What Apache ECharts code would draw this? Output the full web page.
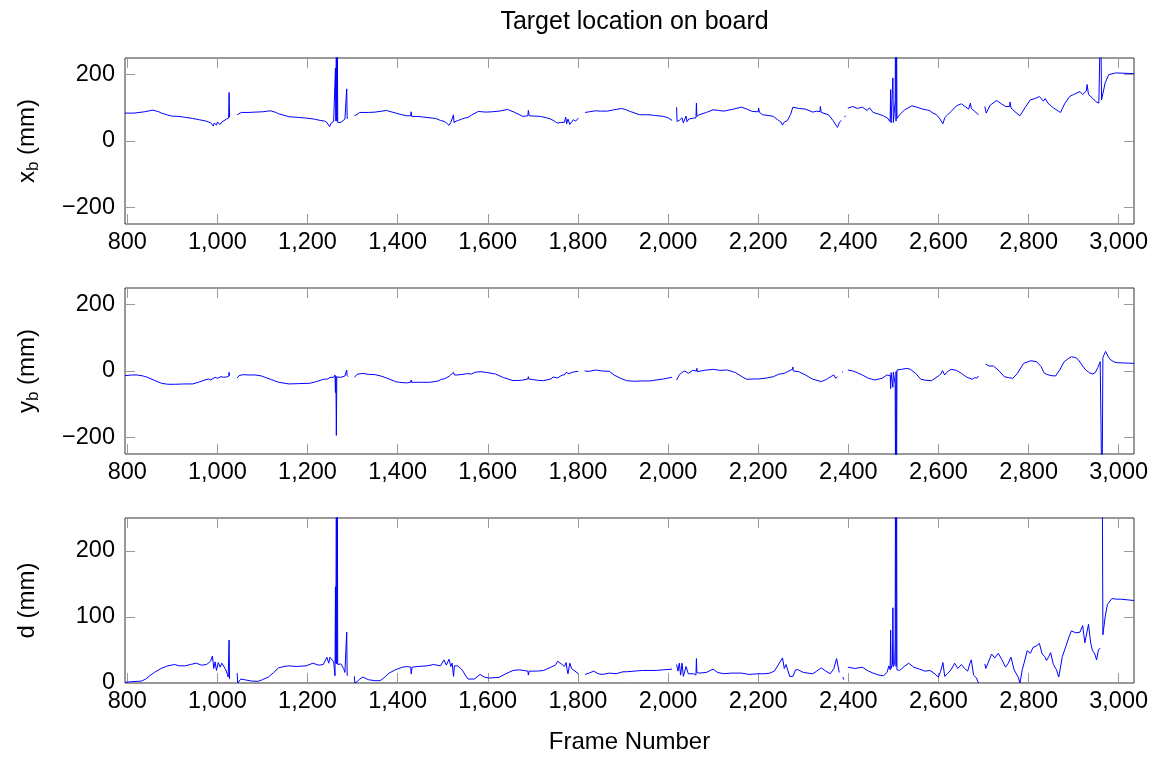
<!DOCTYPE html>
<html>
<head>
<meta charset="utf-8">
<title>Target location on board</title>
<script src="https://cdn.jsdelivr.net/npm/echarts@6/dist/echarts.min.js"></script>
<style>
  html, body { margin: 0; padding: 0; background: #fff; }
  #main { width: 1156px; height: 757px; }
</style>
</head>
<body>
<div id="main"></div>
<script>
// tick values
const frameTicks = [800, 1000, 1200, 1400, 1600, 1800, 2000, 2200, 2400, 2600, 2800, 3000];
const posTicks = [-200, 0, 200];
const distTicks = [0, 100, 200];

// [frame, value]; null = gap in the track, 400 = spike off the top
const xbPoints = [[795,84],[815,84],[838,88],[857,93],[870,88],[876,84],[890,78],[899,75],[915,74],[930,71],[945,68],[960,64],[975,60],[985,55],[988,50],[991,45],[993,54],[995,56],[998,48],[1000,57],[1002,52],[1004,58],[1006,50],[1010,57],[1014,62],[1020,66],[1025,69],[1026,146],[1027,72],[1035,null],
  [1044,79],[1053,86],[1070,86],[1083,87],[1100,88],[1118,91],[1128,87],[1136,82],[1159,73],[1180,71],[1197,69],[1215,66],[1228,62],[1238,60],[1243,56],[1246,58],[1249,43],[1253,55],[1258,59],[1261,60],[1262,220],[1263,60],[1264,400],[1265,60],[1266,400],[1267,56],[1274,56],[1283,66],[1286,66],[1287,157],[1288,68],[1290,69],[1297,null],
  [1304,76],[1310,80],[1316,86],[1335,86],[1350,87],[1375,92],[1396,84],[1410,79],[1419,76],[1429,76],[1430,88],[1431,74],[1445,74],[1457,72],[1470,70],[1484,68],[1495,62],[1503,59],[1508,55],[1514,47],[1518,56],[1522,52],[1524,79],[1525,56],[1530,60],[1535,62],[1542,66],[1549,69],[1556,71],[1564,78],[1579,89],[1595,87],[1610,88],[1625,90],[1644,95],[1660,86],[1678,74],[1689,76],[1690,92],[1692,76],[1705,75],[1717,74],[1730,70],[1740,66],[1750,58],[1755,54],[1762,56],[1770,56],[1773,72],[1775,52],[1778,66],[1782,50],[1786,54],[1790,64],[1795,60],[1801,69],[1808,null],
  [1816,86],[1825,88],[1839,91],[1850,90],[1866,90],[1880,94],[1897,98],[1905,95],[1916,89],[1937,79],[1958,79],[1970,77],[1990,74],[2000,70],[2009,62],[2014,null],
  [2019,102],[2020,59],[2025,62],[2028,56],[2031,70],[2034,55],[2037,56],[2040,75],[2042,58],[2046,66],[2050,62],[2057,69],[2062,70],[2063,114],[2064,74],[2069,79],[2085,86],[2100,94],[2112,92],[2124,90],[2145,96],[2163,102],[2175,96],[2187,89],[2200,88],[2201,99],[2203,86],[2210,79],[2222,77],[2234,74],[2245,62],[2250,58],[2254,48],[2257,56],[2260,58],[2265,62],[2272,80],[2277,102],[2290,98],[2305,96],[2321,87],[2330,90],[2337,88],[2338,104],[2340,86],[2356,79],[2366,62],[2376,41],[2380,55],[2384,62],[2388,null],[2392,72],[2394,76],[2396,null],
  [2399,99],[2410,104],[2420,98],[2431,102],[2442,92],[2447,100],[2455,86],[2465,82],[2478,76],[2488,68],[2492,59],[2493,66],[2494,155],[2495,55],[2498,60],[2499,190],[2500,56],[2503,62],[2504,120],[2505,400],[2506,60],[2507,400],[2508,68],[2514,79],[2525,94],[2541,106],[2552,102],[2565,96],[2573,94],[2581,91],[2588,84],[2595,80],[2602,69],[2610,52],[2614,70],[2620,78],[2628,89],[2640,106],[2651,112],[2659,104],[2667,96],[2671,114],[2673,98],[2680,90],[2689,79],[2696,null],
  [2703,104],[2706,84],[2715,108],[2729,122],[2740,112],[2749,104],[2758,104],[2759,117],[2761,100],[2770,88],[2781,76],[2792,100],[2804,124],[2815,128],[2824,134],[2833,120],[2837,128],[2843,114],[2855,100],[2866,90],[2871,86],[2880,112],[2891,134],[2900,140],[2914,149],[2920,140],[2928,150],[2930,170],[2933,140],[2942,129],[2950,118],[2956,114],[2960,400],[2962,124],[2970,175],[2978,200],[2993,205],[3034,203]];

const ybPoints = [[795,-14],[810,-12],[822,-12],[835,-15],[845,-19],[860,-28],[876,-37],[890,-40],[907,-40],[925,-39],[945,-39],[958,-34],[968,-29],[980,-24],[985,-27],[995,-19],[1000,-22],[1008,-17],[1014,-19],[1020,-18],[1025,-16],[1026,-4],[1027,-14],[1035,null],
  [1044,-21],[1048,-14],[1057,-11],[1070,-12],[1083,-12],[1095,-14],[1106,-19],[1120,-26],[1136,-34],[1159,-39],[1180,-38],[1205,-37],[1220,-32],[1235,-25],[1245,-24],[1250,-19],[1258,-19],[1261,-12],[1262,-65],[1263,-15],[1264,-194],[1265,-18],[1274,-19],[1283,-15],[1286,-16],[1287,3],[1288,-14],[1290,-17],[1297,null],
  [1304,-19],[1310,-10],[1323,-7],[1335,-10],[1350,-11],[1365,-16],[1381,-24],[1395,-32],[1404,-34],[1420,-36],[1429,-34],[1430,-27],[1431,-34],[1450,-34],[1472,-34],[1490,-30],[1497,-25],[1503,-24],[1510,-19],[1515,-15],[1524,-4],[1526,-12],[1533,-12],[1545,-10],[1555,-8],[1564,-9],[1572,-4],[1583,-2],[1600,-5],[1617,-9],[1635,-20],[1656,-29],[1675,-28],[1689,-24],[1690,-17],[1691,-24],[1710,-28],[1724,-29],[1740,-24],[1745,-18],[1755,-21],[1765,-12],[1770,-12],[1774,-4],[1780,-8],[1790,-3],[1801,-1],[1808,null],
  [1815,0],[1825,-1],[1839,3],[1855,0],[1870,-1],[1880,-12],[1895,-22],[1908,-29],[1925,-31],[1943,-30],[1960,-30],[1974,-27],[1990,-24],[2009,-19],[2014,null],
  [2019,-27],[2025,-12],[2030,-5],[2033,-10],[2037,0],[2045,-7],[2055,2],[2063,0],[2064,8],[2065,-2],[2080,2],[2100,5],[2115,2],[2132,3],[2150,-5],[2165,-18],[2175,-25],[2190,-24],[2200,-24],[2201,-18],[2202,-24],[2215,-22],[2234,-17],[2245,-10],[2258,-7],[2268,0],[2276,5],[2277,12],[2278,0],[2290,-2],[2305,-12],[2320,-24],[2340,-32],[2352,-25],[2360,-18],[2368,-12],[2372,-22],[2376,-17],[2382,null],[2386,-4],[2388,-2],[2392,null],
  [2399,3],[2410,0],[2420,-5],[2431,-12],[2445,-22],[2459,-27],[2475,-22],[2486,-12],[2493,-14],[2494,-53],[2495,-5],[2498,-6],[2499,-49],[2500,-3],[2503,0],[2504,-40],[2505,-400],[2506,-2],[2507,-400],[2508,3],[2518,5],[2530,8],[2538,5],[2550,-8],[2561,-25],[2572,-28],[2585,-29],[2600,-15],[2606,-8],[2609,1],[2614,-12],[2620,-2],[2628,5],[2640,2],[2651,-7],[2662,-18],[2675,-25],[2680,-20],[2685,-22],[2689,-15],[2696,null],
  [2705,21],[2712,15],[2722,15],[2735,0],[2746,-17],[2755,-20],[2765,-22],[2775,-8],[2789,23],[2805,31],[2818,28],[2828,13],[2834,-5],[2840,-10],[2850,-14],[2860,-15],[2870,5],[2879,28],[2888,37],[2895,43],[2905,40],[2911,33],[2920,15],[2927,3],[2935,-5],[2942,-9],[2948,-5],[2954,11],[2959,28],[2963,-400],[2965,41],[2971,59],[2976,45],[2981,35],[2990,27],[2997,25],[3034,23]];

const dPoints = [[795,1],[810,2],[822,2.5],[832,3],[841,6],[850,11],[860,16],[875,22],[890,26],[905,28],[915,26],[929,26],[940,28],[953,30],[965,27],[976,28],[985,33],[989,41],[992,22],[995,32],[998,19],[1002,31],[1006,24],[1010,30],[1014,29],[1017,22],[1020,18],[1024,9],[1025,9],[1026,65],[1027,6],[1035,null],
  [1044,15],[1045,0],[1048,3],[1052,6],[1060,5],[1075,3],[1090,2.5],[1100,5],[1113,9],[1125,16],[1136,23],[1148,25],[1159,26],[1175,25],[1197,26],[1212,30],[1225,27],[1235,28],[1243,39],[1247,30],[1250,39],[1254,39],[1258,32],[1261,11],[1262,146],[1263,30],[1264,400],[1265,29],[1266,400],[1267,28],[1274,29],[1280,22],[1283,16],[1286,14],[1287,77],[1288,12],[1290,11],[1297,null],
  [1304,10],[1305,0],[1310,2],[1316,6],[1323,9],[1335,5],[1350,3.5],[1361,3.5],[1370,8],[1381,15],[1395,20],[1411,24],[1420,25],[1429,24],[1430,14],[1432,24],[1445,25],[1465,26],[1480,28],[1495,26],[1503,35],[1508,27],[1514,36],[1518,25],[1521,30],[1524,10],[1526,26],[1533,26],[1540,22],[1545,18],[1550,12],[1556,6],[1570,6],[1583,13],[1592,9],[1602,7.5],[1625,8.5],[1640,14],[1656,19],[1670,20],[1689,18],[1690,12],[1692,18],[1710,18],[1724,19],[1740,24],[1750,27],[1755,33],[1765,28],[1770,25],[1774,31],[1776,20],[1778,14],[1782,30],[1786,22],[1790,20],[1801,14],[1808,null],
  [1816,13],[1825,15],[1835,18],[1845,14],[1854,13],[1870,15],[1885,14],[1900,17],[1908,17],[1925,18],[1943,19],[1960,19],[1974,19],[1990,20],[2009,21],[2014,null],
  [2019,28],[2022,18],[2025,30],[2028,12],[2031,30],[2034,10],[2037,11],[2040,25],[2045,14],[2057,14],[2062,12],[2063,37],[2064,16],[2069,15],[2085,16],[2100,21],[2110,16],[2124,14],[2140,15],[2163,15],[2180,13],[2201,14],[2215,14],[2226,15],[2236,18],[2246,29],[2250,32],[2254,38],[2258,22],[2262,28],[2265,21],[2270,10],[2277,10],[2283,20],[2289,20],[2300,16],[2321,14],[2330,18],[2340,23],[2350,18],[2360,14],[2368,22],[2374,37],[2380,16],[2385,null],[2388,9],[2390,5],[2393,null],
  [2399,24],[2415,22],[2431,24],[2445,18],[2455,15],[2468,12],[2478,11],[2486,16],[2490,26],[2493,20],[2494,80],[2495,22],[2498,28],[2499,114],[2500,25],[2503,30],[2504,60],[2505,400],[2506,25],[2507,400],[2508,20],[2514,19],[2524,25],[2534,30],[2545,24],[2558,21],[2570,18],[2581,19],[2590,15],[2600,9],[2605,18],[2610,31],[2614,10],[2620,14],[2628,20],[2636,30],[2643,22],[2651,28],[2658,22],[2665,18],[2670,30],[2673,35],[2678,12],[2684,8],[2689,0],[2696,null],
  [2703,29],[2705,22],[2710,30],[2718,44],[2725,38],[2733,45],[2741,35],[2749,24],[2755,30],[2761,39],[2768,20],[2777,9],[2781,0],[2786,20],[2790,30],[2797,49],[2804,45],[2810,54],[2817,56],[2824,60],[2830,44],[2836,40],[2840,34],[2845,40],[2849,46],[2855,28],[2862,20],[2867,9],[2875,40],[2883,56],[2890,70],[2895,79],[2905,76],[2914,77],[2920,87],[2925,61],[2933,89],[2938,60],[2942,49],[2947,44],[2951,35],[2955,50],[2959,53],[2961,null],[2963,400],[2965,73],[2970,100],[2975,119],[2985,128],[2995,127],[3005,127],[3034,125]];

const FONT = 'Liberation Sans';
const grids = [
  { left: 125, width: 1009, top: 58, height: 166 },
  { left: 125, width: 1009, top: 288, height: 166 },
  { left: 125, width: 1009, top: 518, height: 165 }
].map(g => Object.assign(g, { show: true, borderColor: '#333', borderWidth: 1 }));

const tickStyle = { inside: true, length: 10, lineStyle: { color: '#999', width: 1 } };
const fmtFrame = v => Number(v).toLocaleString('en-US');
const fmtPos = v => (v < 0 ? '\u2212' + Math.abs(v) : String(v));

const xAxes = [];
const yAxes = [];
const names = [
  '{a|x}{s|b}{a| (mm)}',
  '{a|y}{s|b}{a| (mm)}',
  '{a|d (mm)}'
];
const yRanges = [[-250, 250, posTicks], [-250, 250, posTicks], [0, 250, distTicks]];

for (let i = 0; i < 3; i++) {
  xAxes.push({
    type: 'value', gridIndex: i, min: 795, max: 3034, position: 'bottom',
    axisLine: { show: false, onZero: false }, splitLine: { show: false },
    axisTick: Object.assign({ customValues: frameTicks }, tickStyle),
    axisLabel: { customValues: frameTicks, formatter: fmtFrame, fontFamily: FONT, fontSize: 23.5, color: '#000', margin: 7 },
    name: i === 2 ? 'Frame Number' : '', nameLocation: 'middle', nameGap: 47,
    nameTextStyle: { fontFamily: FONT, fontSize: 24, color: '#000' }
  });
  xAxes.push({
    type: 'value', gridIndex: i, min: 795, max: 3034, position: 'top',
    axisLine: { show: false, onZero: false }, splitLine: { show: false },
    axisTick: Object.assign({ customValues: frameTicks }, tickStyle),
    axisLabel: { show: false }
  });
  const [lo, hi, ticks] = yRanges[i];
  yAxes.push({
    type: 'value', gridIndex: i, min: lo, max: hi, position: 'left',
    axisLine: { show: false, onZero: false }, splitLine: { show: false },
    axisTick: Object.assign({ customValues: ticks }, tickStyle),
    axisLabel: { customValues: ticks, formatter: fmtPos, fontFamily: FONT, fontSize: 23.5, color: '#000', margin: 10 },
    name: names[i], nameLocation: 'middle', nameGap: 83, nameRotate: 90,
    nameTextStyle: {
      fontFamily: FONT, color: '#000',
      rich: {
        a: { fontFamily: FONT, fontSize: 24, lineHeight: 30, color: '#000', verticalAlign: 'middle' },
        s: { fontFamily: FONT, fontSize: 17, lineHeight: 17, color: '#000', verticalAlign: 'bottom' }
      }
    }
  });
  yAxes.push({
    type: 'value', gridIndex: i, min: lo, max: hi, position: 'right',
    axisLine: { show: false, onZero: false }, splitLine: { show: false },
    axisTick: Object.assign({ customValues: ticks }, tickStyle),
    axisLabel: { show: false }
  });
}

const series = [xbPoints, ybPoints, dPoints].map((data, i) => ({
  type: 'line', xAxisIndex: i * 2, yAxisIndex: i * 2, data: data,
  showSymbol: false, symbol: 'none', connectNulls: false, clip: true,
  lineStyle: { color: '#0000ff', width: 1 }
}));

const chart = echarts.init(document.getElementById('main'), null, { renderer: 'canvas' });
chart.setOption({
  animation: false,
  backgroundColor: '#fff',
  title: {
    text: 'Target location on board', left: 629.5, top: 5, textAlign: 'center',
    textStyle: { fontFamily: FONT, fontSize: 25, fontWeight: 'normal', color: '#000' }
  },
  grid: grids,
  xAxis: xAxes,
  yAxis: yAxes,
  series: series
});
</script>
</body>
</html>
